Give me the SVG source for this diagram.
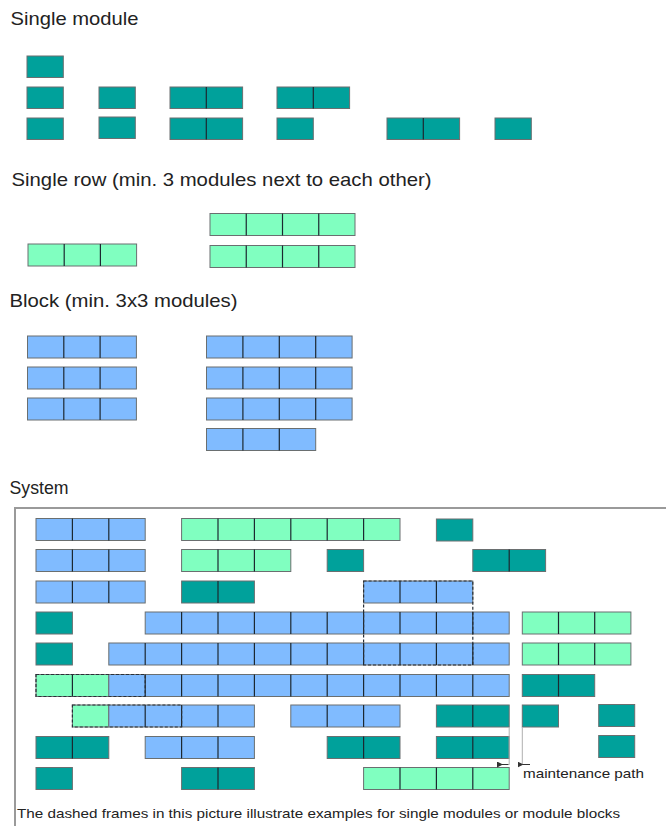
<svg xmlns="http://www.w3.org/2000/svg" width="666" height="826" viewBox="0 0 666 826">
<style>
  .t{fill:#00A19B}
  .g{fill:#80FFC0}
  .b{fill:#80BBFF}
  rect.m{stroke:#6a6f70;stroke-width:1}
  line.d{stroke:#1c2830;stroke-width:1.2}
  .title{font-family:"Liberation Sans",Arial,sans-serif;font-size:19px;fill:#222}
  .small{font-family:"Liberation Sans",Arial,sans-serif;font-size:13px;fill:#222}
  .dash{fill:none;stroke:#2a3038;stroke-width:1.2;stroke-dasharray:3 2}
  .frame{fill:none;stroke:#9a9a9a;stroke-width:2}
  .mp{stroke:#b0b0b0;stroke-width:1;fill:none}
</style>
<defs>
  <marker id="ah" markerWidth="6" markerHeight="6" refX="1" refY="3" orient="auto-start-reverse" markerUnits="userSpaceOnUse">
    <path d="M6,0 L0,3 L6,6 z" fill="#333"/>
  </marker>
</defs>
<rect width="666" height="826" fill="#fff"/>

<!-- Titles -->
<text class="title" x="10.5" y="25" textLength="128" lengthAdjust="spacingAndGlyphs">Single module</text>
<text class="title" x="11.5" y="185.5" textLength="420" lengthAdjust="spacingAndGlyphs">Single row (min. 3 modules next to each other)</text>
<text class="title" x="9.5" y="306.5" textLength="228" lengthAdjust="spacingAndGlyphs">Block (min. 3x3 modules)</text>
<text class="title" x="9.5" y="493.5" textLength="59" lengthAdjust="spacingAndGlyphs">System</text>

<!-- Section 1: single modules -->
<g id="s1-a"><rect class="m t" x="27" y="56" width="36.3" height="21.5"/></g>
<g id="s1-b"><rect class="m t" x="27" y="87" width="36.3" height="21.5"/></g>
<g id="s1-c"><rect class="m t" x="99" y="87" width="36.3" height="21.5"/></g>
<g id="s1-d"><rect class="m t" x="170" y="87" width="72.6" height="21.5"/><line class="d" x1="206.3" y1="87" x2="206.3" y2="108.5"/></g>
<g id="s1-e"><rect class="m t" x="277" y="87" width="72.6" height="21.5"/><line class="d" x1="313.3" y1="87" x2="313.3" y2="108.5"/></g>
<g id="s1-f"><rect class="m t" x="27" y="118" width="36.3" height="21.5"/></g>
<g id="s1-g"><rect class="m t" x="99" y="117" width="36.3" height="21.5"/></g>
<g id="s1-h"><rect class="m t" x="170" y="118" width="72.6" height="21.5"/><line class="d" x1="206.3" y1="118" x2="206.3" y2="139.5"/></g>
<g id="s1-i"><rect class="m t" x="277" y="118" width="36.3" height="21.5"/></g>
<g id="s1-j"><rect class="m t" x="387" y="118" width="72.6" height="21.5"/><line class="d" x1="423.3" y1="118" x2="423.3" y2="139.5"/></g>
<g id="s1-k"><rect class="m t" x="495" y="118" width="36.3" height="21.5"/></g>

<!-- Section 2: single rows -->
<g id="s2-a"><rect class="m g" x="210" y="213.5" width="145" height="22"/><line class="d" x1="246.25" y1="213.5" x2="246.25" y2="235.5"/><line class="d" x1="282.5" y1="213.5" x2="282.5" y2="235.5"/><line class="d" x1="318.75" y1="213.5" x2="318.75" y2="235.5"/></g>
<g id="s2-b"><rect class="m g" x="210" y="245.5" width="145" height="22"/><line class="d" x1="246.25" y1="245.5" x2="246.25" y2="267.5"/><line class="d" x1="282.5" y1="245.5" x2="282.5" y2="267.5"/><line class="d" x1="318.75" y1="245.5" x2="318.75" y2="267.5"/></g>
<g id="s2-c"><rect class="m g" x="28" y="244" width="108.6" height="22"/><line class="d" x1="64.2" y1="244" x2="64.2" y2="266"/><line class="d" x1="100.4" y1="244" x2="100.4" y2="266"/></g>

<!-- Section 3: blocks -->
<g id="s3-a"><rect class="m b" x="27.5" y="336" width="108.9" height="22"/><line class="d" x1="63.8" y1="336" x2="63.8" y2="358"/><line class="d" x1="100.1" y1="336" x2="100.1" y2="358"/></g>
<g id="s3-b"><rect class="m b" x="27.5" y="367" width="108.9" height="22"/><line class="d" x1="63.8" y1="367" x2="63.8" y2="389"/><line class="d" x1="100.1" y1="367" x2="100.1" y2="389"/></g>
<g id="s3-c"><rect class="m b" x="27.5" y="398" width="108.9" height="22"/><line class="d" x1="63.8" y1="398" x2="63.8" y2="420"/><line class="d" x1="100.1" y1="398" x2="100.1" y2="420"/></g>
<g id="s3-d"><rect class="m b" x="206.5" y="336" width="145.6" height="22"/><line class="d" x1="242.9" y1="336" x2="242.9" y2="358"/><line class="d" x1="279.3" y1="336" x2="279.3" y2="358"/><line class="d" x1="315.7" y1="336" x2="315.7" y2="358"/></g>
<g id="s3-e"><rect class="m b" x="206.5" y="367" width="145.6" height="22"/><line class="d" x1="242.9" y1="367" x2="242.9" y2="389"/><line class="d" x1="279.3" y1="367" x2="279.3" y2="389"/><line class="d" x1="315.7" y1="367" x2="315.7" y2="389"/></g>
<g id="s3-f"><rect class="m b" x="206.5" y="398" width="145.6" height="22"/><line class="d" x1="242.9" y1="398" x2="242.9" y2="420"/><line class="d" x1="279.3" y1="398" x2="279.3" y2="420"/><line class="d" x1="315.7" y1="398" x2="315.7" y2="420"/></g>
<g id="s3-g"><rect class="m b" x="206.5" y="428.5" width="109.2" height="22"/><line class="d" x1="242.9" y1="428.5" x2="242.9" y2="450.5"/><line class="d" x1="279.3" y1="428.5" x2="279.3" y2="450.5"/></g>

<!-- Section 4: system frame -->
<path class="frame" d="M15,826 L15,508 L666,508"/>

<!-- Row 1 y=518.5 -->
<g id="r1-a"><rect class="m b" x="36" y="518.5" width="109.2" height="22"/><line class="d" x1="72.4" y1="518.5" x2="72.4" y2="540.5"/><line class="d" x1="108.8" y1="518.5" x2="108.8" y2="540.5"/></g>
<g id="r1-b"><rect class="m g" x="181.6" y="518.5" width="218.4" height="22"/><line class="d" x1="218" y1="518.5" x2="218" y2="540.5"/><line class="d" x1="254.4" y1="518.5" x2="254.4" y2="540.5"/><line class="d" x1="290.8" y1="518.5" x2="290.8" y2="540.5"/><line class="d" x1="327.2" y1="518.5" x2="327.2" y2="540.5"/><line class="d" x1="363.6" y1="518.5" x2="363.6" y2="540.5"/></g>
<g id="r1-c"><rect class="m t" x="436.4" y="519" width="36.4" height="22"/></g>

<!-- Row 2 y=549.5 -->
<g id="r2-a"><rect class="m b" x="36" y="549.5" width="109.2" height="22"/><line class="d" x1="72.4" y1="549.5" x2="72.4" y2="571.5"/><line class="d" x1="108.8" y1="549.5" x2="108.8" y2="571.5"/></g>
<g id="r2-b"><rect class="m g" x="181.6" y="549.5" width="109.2" height="22"/><line class="d" x1="218" y1="549.5" x2="218" y2="571.5"/><line class="d" x1="254.4" y1="549.5" x2="254.4" y2="571.5"/></g>
<g id="r2-c"><rect class="m t" x="327.2" y="549.5" width="36.4" height="22"/></g>
<g id="r2-d"><rect class="m t" x="472.8" y="549.5" width="72.8" height="22"/><line class="d" x1="509.2" y1="549.5" x2="509.2" y2="571.5"/></g>

<!-- Row 3 y=581 -->
<g id="r3-a"><rect class="m b" x="36" y="581" width="109.2" height="22"/><line class="d" x1="72.4" y1="581" x2="72.4" y2="603"/><line class="d" x1="108.8" y1="581" x2="108.8" y2="603"/></g>
<g id="r3-b"><rect class="m t" x="181.6" y="581" width="72.8" height="22"/><line class="d" x1="218" y1="581" x2="218" y2="603"/></g>
<g id="r3-c"><rect class="m b" x="363.6" y="581" width="109.2" height="22"/><line class="d" x1="400" y1="581" x2="400" y2="603"/><line class="d" x1="436.4" y1="581" x2="436.4" y2="603"/></g>

<!-- Row 4 y=612 -->
<g id="r4-a"><rect class="m t" x="36" y="612" width="36.4" height="22"/></g>
<g id="r4-b"><rect class="m b" x="145.2" y="612" width="364" height="22"/><line class="d" x1="181.6" y1="612" x2="181.6" y2="634"/><line class="d" x1="218" y1="612" x2="218" y2="634"/><line class="d" x1="254.4" y1="612" x2="254.4" y2="634"/><line class="d" x1="290.8" y1="612" x2="290.8" y2="634"/><line class="d" x1="327.2" y1="612" x2="327.2" y2="634"/><line class="d" x1="363.6" y1="612" x2="363.6" y2="634"/><line class="d" x1="400" y1="612" x2="400" y2="634"/><line class="d" x1="436.4" y1="612" x2="436.4" y2="634"/><line class="d" x1="472.8" y1="612" x2="472.8" y2="634"/></g>
<g id="r4-c"><rect class="m g" x="522.3" y="612" width="108.6" height="22"/><line class="d" x1="558.5" y1="612" x2="558.5" y2="634"/><line class="d" x1="594.7" y1="612" x2="594.7" y2="634"/></g>

<!-- Row 5 y=643 -->
<g id="r5-a"><rect class="m t" x="36" y="643" width="36.4" height="22"/></g>
<g id="r5-b"><rect class="m b" x="108.8" y="643" width="400.4" height="22"/><line class="d" x1="145.2" y1="643" x2="145.2" y2="665"/><line class="d" x1="181.6" y1="643" x2="181.6" y2="665"/><line class="d" x1="218" y1="643" x2="218" y2="665"/><line class="d" x1="254.4" y1="643" x2="254.4" y2="665"/><line class="d" x1="290.8" y1="643" x2="290.8" y2="665"/><line class="d" x1="327.2" y1="643" x2="327.2" y2="665"/><line class="d" x1="363.6" y1="643" x2="363.6" y2="665"/><line class="d" x1="400" y1="643" x2="400" y2="665"/><line class="d" x1="436.4" y1="643" x2="436.4" y2="665"/><line class="d" x1="472.8" y1="643" x2="472.8" y2="665"/></g>
<g id="r5-c"><rect class="m g" x="522.3" y="643" width="108.6" height="22"/><line class="d" x1="558.5" y1="643" x2="558.5" y2="665"/><line class="d" x1="594.7" y1="643" x2="594.7" y2="665"/></g>

<!-- Row 6 y=674.5 -->
<g id="r6-a"><rect class="m g" x="36" y="674.5" width="72.8" height="22"/><line class="d" x1="72.4" y1="674.5" x2="72.4" y2="696.5"/></g>
<g id="r6-b"><rect class="m b" x="108.8" y="674.5" width="400.4" height="22"/><line class="d" x1="145.2" y1="674.5" x2="145.2" y2="696.5"/><line class="d" x1="181.6" y1="674.5" x2="181.6" y2="696.5"/><line class="d" x1="218" y1="674.5" x2="218" y2="696.5"/><line class="d" x1="254.4" y1="674.5" x2="254.4" y2="696.5"/><line class="d" x1="290.8" y1="674.5" x2="290.8" y2="696.5"/><line class="d" x1="327.2" y1="674.5" x2="327.2" y2="696.5"/><line class="d" x1="363.6" y1="674.5" x2="363.6" y2="696.5"/><line class="d" x1="400" y1="674.5" x2="400" y2="696.5"/><line class="d" x1="436.4" y1="674.5" x2="436.4" y2="696.5"/><line class="d" x1="472.8" y1="674.5" x2="472.8" y2="696.5"/></g>
<g id="r6-c"><rect class="m t" x="522.3" y="674.5" width="72.4" height="22"/><line class="d" x1="558.5" y1="674.5" x2="558.5" y2="696.5"/></g>

<!-- Row 7 y=705 -->
<g id="r7-a"><rect class="m g" x="72.4" y="705" width="36.4" height="22"/></g>
<g id="r7-b"><rect class="m b" x="108.8" y="705" width="145.6" height="22"/><line class="d" x1="145.2" y1="705" x2="145.2" y2="727"/><line class="d" x1="181.6" y1="705" x2="181.6" y2="727"/><line class="d" x1="218" y1="705" x2="218" y2="727"/></g>
<g id="r7-c"><rect class="m b" x="290.8" y="705" width="109.2" height="22"/><line class="d" x1="327.2" y1="705" x2="327.2" y2="727"/><line class="d" x1="363.6" y1="705" x2="363.6" y2="727"/></g>
<g id="r7-d"><rect class="m t" x="436.4" y="705" width="72.8" height="22"/><line class="d" x1="472.8" y1="705" x2="472.8" y2="727"/></g>
<g id="r7-e"><rect class="m t" x="522.3" y="705" width="36.2" height="22"/></g>
<g id="r7-f"><rect class="m t" x="598.7" y="704.5" width="36" height="22"/></g>

<!-- Row 8 y=736.5 -->
<g id="r8-a"><rect class="m t" x="36" y="736.5" width="72.8" height="22"/><line class="d" x1="72.4" y1="736.5" x2="72.4" y2="758.5"/></g>
<g id="r8-b"><rect class="m b" x="145.2" y="736.5" width="109.2" height="22"/><line class="d" x1="181.6" y1="736.5" x2="181.6" y2="758.5"/><line class="d" x1="218" y1="736.5" x2="218" y2="758.5"/></g>
<g id="r8-c"><rect class="m t" x="327.2" y="736.5" width="72.8" height="22"/><line class="d" x1="363.6" y1="736.5" x2="363.6" y2="758.5"/></g>
<g id="r8-d"><rect class="m t" x="436.4" y="736.5" width="72.8" height="22"/><line class="d" x1="472.8" y1="736.5" x2="472.8" y2="758.5"/></g>
<g id="r8-e"><rect class="m t" x="598.7" y="735.5" width="36" height="22"/></g>

<!-- Row 9 y=767.5 -->
<g id="r9-a"><rect class="m t" x="36" y="767.5" width="36.4" height="22"/></g>
<g id="r9-b"><rect class="m t" x="181.6" y="767.5" width="72.8" height="22"/><line class="d" x1="218" y1="767.5" x2="218" y2="789.5"/></g>
<g id="r9-c"><rect class="m g" x="363.6" y="767.5" width="145.6" height="22"/><line class="d" x1="400" y1="767.5" x2="400" y2="789.5"/><line class="d" x1="436.4" y1="767.5" x2="436.4" y2="789.5"/><line class="d" x1="472.8" y1="767.5" x2="472.8" y2="789.5"/></g>

<!-- Dashed frames -->
<g id="dashed-frames">
  <rect class="dash" x="363.6" y="581" width="109.2" height="84"/>
  <rect class="dash" x="36" y="674.5" width="109.2" height="22"/>
  <rect class="dash" x="72.4" y="705" width="109.2" height="22"/>
</g>

<!-- Connectors: maintenance path -->
<g id="connectors">
  <line class="mp" x1="509.2" y1="727" x2="509.2" y2="765"/>
  <line class="mp" x1="522.3" y1="727" x2="522.3" y2="765"/>
  <line x1="508.5" y1="764.5" x2="502" y2="764.5" stroke="#333" stroke-width="1" marker-end="url(#ah)"/>
  <line x1="530" y1="764.5" x2="522.5" y2="764.5" stroke="#333" stroke-width="1" marker-end="url(#ah)"/>
</g>

<text class="small" x="523" y="778" textLength="121" lengthAdjust="spacingAndGlyphs">maintenance path</text>
<text class="small" x="17" y="818" textLength="603" lengthAdjust="spacingAndGlyphs">The dashed frames in this picture illustrate examples for single modules or module blocks</text>
</svg>
